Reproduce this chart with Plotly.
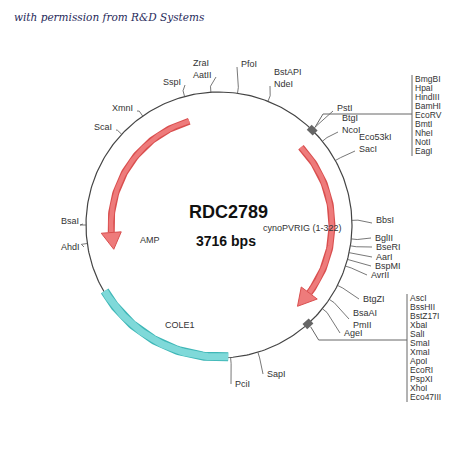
import numpy as np
import plotly.graph_objects as go

title = "with permission from R&D Systems"
plasmid_name = "RDC2789"
insert_name = "cynoPVRIG (1-322)"
size_label = "3716 bps"
site_names = ["ZraI<br>AatII", "PfoI", "BstAPI<br>NdeI", "SspI", "XmnI", "ScaI",
              "PstI", "BtgI<br>NcoI", "Eco53kI<br>SacI", "BbsI",
              "BglII", "BseRI", "AarI", "BspMI", "AvrII",
              "BtgZI", "BsaAI<br>PmII", "AgeI", "SapI", "PciI", "AhdI", "BsaI"]
site_angles = [356.5, 8, 21.6, 345, 325, 313, 44.5, 51, 61, 88,
               96, 99, 102, 105, 108, 117, 124, 129, 163, 175, 262, 270]
mcs1_names = ["BmgBI", "HpaI", "HindIII", "BamHI", "EcoRV", "BmtI", "NheI", "NotI", "EagI"]
mcs2_names = ["AscI", "BssHII", "BstZ17I", "XbaI", "SalI", "SmaI", "XmaI", "ApoI",
              "EcoRI", "PspXI", "XhoI", "Eco47III"]
mcs1_angle = 44.5
mcs2_angle = 138
features = ["AMP", "insert", "COLE1"]
feat_start = [344, 46.5, 176]
feat_end = [257, 136, 240]

LABEL_POS = {
    "ZraI<br>AatII": (212, 68, "right"), "PfoI": (237, 63, "left"),
    "BstAPI<br>NdeI": (270, 77, "left"), "SspI": (181, 81, "right"),
    "XmnI": (133, 107, "right"), "ScaI": (112, 126, "right"),
    "PstI": (333, 107, "left"), "BtgI<br>NcoI": (338, 123, "left"),
    "Eco53kI<br>SacI": (355, 142, "left"), "BbsI": (372, 219, "left"),
    "BglII": (371, 237, "left"), "BseRI": (372, 246, "left"), "AarI": (372, 256, "left"),
    "BspMI": (371, 265, "left"), "AvrII": (367, 274, "left"),
    "BtgZI": (359, 298, "left"), "BsaAI<br>PmII": (349, 318, "left"),
    "AgeI": (340, 332, "left"), "SapI": (263, 373, "left"), "PciI": (231, 383, "left"),
    "AhdI": (80, 246, "right"), "BsaI": (79, 220, "right"),
}

CX, CY, R = 217, 224, 133
X0, Y0 = 6, 7

def pt(a, r):
    t = np.radians(a)
    return CX + r*np.sin(t), CY - r*np.cos(t)

fig = go.Figure()
def line(xs, ys, color="#555", w=1):
    fig.add_trace(go.Scatter(x=xs, y=ys, mode="lines", line=dict(color=color, width=w),
                             hoverinfo="skip", showlegend=False))

th = np.linspace(0, 360, 361)
x, y = pt(th, R); line(x, y, "#444", 1.2)

a = np.linspace(feat_start[2], feat_end[2], 80)
x, y = pt(a, R-1); line(x, y, "#3fb7b7", 9)
x, y = pt(a, R-1); line(x, y, "#7fd9d9", 7)

for s, e, rr in [(feat_start[0], feat_end[0], 108), (feat_start[1], feat_end[1], 113)]:
    d = 1 if e > s else -1
    base = e - d*9
    a = np.linspace(s, base, 80)
    x, y = pt(a, rr); line(x, y, "#d94f4f", 7)
    x, y = pt(a, rr); line(x, y, "#ee7b7b", 4.5)
    x1, y1 = pt(base, rr-10); x2, y2 = pt(base, rr+10); x3, y3 = pt(e, rr)
    fig.add_trace(go.Scatter(x=[x1, x3, x2, x1], y=[y1, y3, y2, y1], mode="lines",
                             fill="toself", fillcolor="#ee7b7b", line=dict(color="#d94f4f", width=1),
                             hoverinfo="skip", showlegend=False))

for n, ang in zip(site_names, site_angles):
    x0, y0 = pt(ang, R); x1, y1 = pt(ang, R+6)
    lx, ly, xa = LABEL_POS[n]
    ex = lx - 2 if xa == "left" else lx + 2
    if ly < CY:
        ey = ly + (8 if "<br>" in n else 3)
    else:
        ey = ly
    line([x0, x1, ex], [y0, y1, ey], "#555", 0.8)
    fig.add_annotation(x=lx, y=ly, text=n, showarrow=False, xanchor=xa, yanchor="middle",
                       font=dict(size=9, color="#333"), align="left")

for ang, names, ybar, ystart, xb in [(mcs1_angle, mcs1_names, 113, 78, 410),
                                     (mcs2_angle, mcs2_names, 339, 297, 405)]:
    a = np.linspace(ang-1.8, ang+1.8, 10)
    x, y = pt(a, R); line(x, y, "#666", 7)
    x0, y0b = pt(ang, R+4)
    line([x0, x0+8, xb], [y0b, ybar, ybar], "#666", 1)
    n = len(names)
    line([xb, xb], [ystart-4, ystart+9*(n-1)+5], "#666", 1)
    for i, nm in enumerate(names):
        fig.add_annotation(x=xb+1, y=ystart+9*i, text=nm, showarrow=False, xanchor="left",
                           yanchor="middle", font=dict(size=8.5, color="#333"))

fig.add_annotation(x=226, y=211, text="<b>"+plasmid_name+"</b>", showarrow=False,
                   font=dict(size=18, color="#111", family="Arial"))
fig.add_annotation(x=300, y=227, text=insert_name, showarrow=False, font=dict(size=9, color="#333"))
fig.add_annotation(x=224, y=240, text="<b>"+size_label+"</b>", showarrow=False,
                   font=dict(size=14, color="#111"))
fig.add_annotation(x=148, y=239, text=features[0], showarrow=False, font=dict(size=9, color="#333"))
fig.add_annotation(x=178, y=324, text=features[2], showarrow=False, font=dict(size=9, color="#333"))
fig.add_annotation(x=10, y=16, text="<i>"+title+"</i>", showarrow=False, xanchor="left",
                   font=dict(size=10.5, color="#1f2a5a", family="DejaVu Serif"))

fig.update_layout(width=450, height=450, margin=dict(l=0, r=0, t=0, b=0),
                  paper_bgcolor="white", plot_bgcolor="white",
                  font=dict(family="Liberation Sans, Arial"),
                  xaxis=dict(range=[X0, 450+X0], visible=False, fixedrange=True),
                  yaxis=dict(range=[450+Y0, Y0], visible=False, fixedrange=True))
fig.write_html("out.html")
